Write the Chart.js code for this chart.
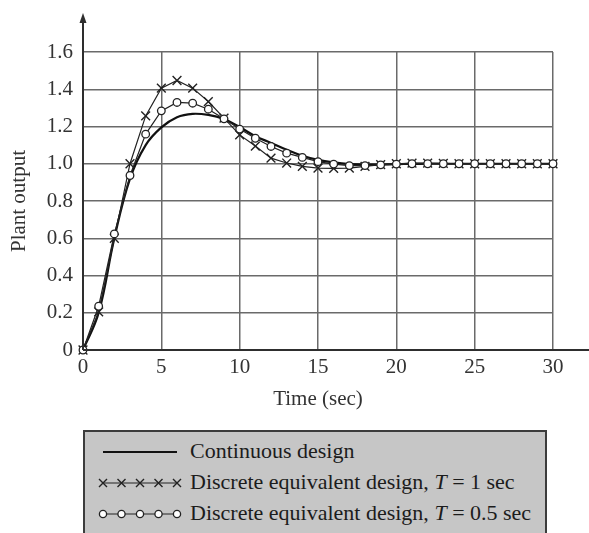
<!DOCTYPE html>
<html>
<head>
<meta charset="utf-8">
<script src="https://cdn.jsdelivr.net/npm/chart.js@4.4.1/dist/chart.umd.min.js"></script>
<style>
html,body{margin:0;padding:0;background:#fff;width:589px;height:533px;overflow:hidden;}
#wrap{position:relative;width:589px;height:533px;}
#chart{position:absolute;left:0;top:0;}
#legend{position:absolute;left:83px;top:430px;width:460px;height:130px;background:#c6c6c6;border:2px solid #3c3c3c;font-family:"Liberation Serif","Times New Roman",serif;font-size:22px;color:#1c1c1c;}
.row{position:absolute;left:0;width:456px;height:24px;}
.row svg{position:absolute;left:13px;top:0;}
.row span{position:absolute;left:105px;top:-1px;line-height:24px;white-space:nowrap;}
</style>
</head>
<body>
<div id="wrap">
<canvas id="chart" width="589" height="533"></canvas>
<div id="legend"></div>
</div>
<script>
// ---- data ----
const timeSec = [0,1,2,3,4,5,6,7,8,9,10,11,12,13,14,15,16,17,18,19,20,21,22,23,24,25,26,27,28,29,30];
const continuousDesign = [0,0.2,0.6,0.92,1.1,1.195,1.25,1.268,1.262,1.24,1.197,1.148,1.112,1.075,1.043,1.021,1.007,0.998,0.995,0.996,0.998,0.999,1,1,1,1,1,1,1,1,1];
const discreteT1 = [0,0.205,0.6,1.0,1.257,1.406,1.447,1.406,1.334,1.245,1.155,1.095,1.03,1.004,0.986,0.977,0.975,0.977,0.986,0.995,1.0,1.003,1.003,1.002,1.0,1.0,1.0,1.0,1.0,1.0,1.0];
const discreteT05 = [0,0.235,0.623,0.937,1.159,1.284,1.329,1.325,1.293,1.241,1.186,1.137,1.093,1.057,1.034,1.011,0.998,0.99,0.99,0.994,0.998,1.0,1.0,1.0,1.0,1.0,1.0,1.0,1.0,1.0,1.0];
const xTicks = [0,5,10,15,20,25,30];
const yTicks = [0,0.2,0.4,0.6,0.8,1.0,1.2,1.4,1.6];
const seriesLabels = ['Continuous design','Discrete equivalent design, T = 1 sec','Discrete equivalent design, T = 0.5 sec'];
const xTitle = 'Time (sec)';
const yTitle = 'Plant output';

const serif = '"Liberation Serif","Times New Roman",serif';
const toPts = ys => timeSec.map((t,i)=>({x:t,y:ys[i]}));

const axisArrows = {
  id:'axisArrows',
  afterDraw(chart){
    const {ctx, chartArea:a} = chart;
    ctx.save();
    ctx.strokeStyle = '#2e2e2e';
    ctx.fillStyle = '#2e2e2e';
    ctx.lineWidth = 2;
    ctx.beginPath();
    ctx.moveTo(a.left, a.bottom); ctx.lineTo(a.left, 20);
    ctx.moveTo(a.left, a.bottom); ctx.lineTo(chart.width, a.bottom);
    ctx.stroke();
    ctx.beginPath();
    ctx.moveTo(a.left, 13); ctx.lineTo(a.left-3.5, 23); ctx.lineTo(a.left+3.5, 23); ctx.closePath();
    ctx.fill();
    ctx.restore();
  }
};

const chart = new Chart(document.getElementById('chart'), {
  type:'line',
  data:{
    datasets:[
      {label:seriesLabels[0], data:toPts(continuousDesign), borderColor:'#111', borderWidth:2.2, pointRadius:0, tension:0.4, order:3, clip:false},
      {label:seriesLabels[1], data:toPts(discreteT1), borderColor:'#222', borderWidth:1.2, pointStyle:'crossRot', pointRadius:6.2, pointBorderWidth:1.4, pointBorderColor:'#222', tension:0, order:2, clip:false},
      {label:seriesLabels[2], data:toPts(discreteT05), borderColor:'#222', borderWidth:1.2, pointStyle:'circle', pointRadius:3.8, pointBorderWidth:1.3, pointBorderColor:'#222', pointBackgroundColor:'#fff', tension:0, order:1, clip:false}
    ]
  },
  options:{
    responsive:false, animation:false, devicePixelRatio:1,
    layout:{padding:{left:0, top:52, right:36, bottom:113}},
    plugins:{legend:{display:false}, tooltip:{enabled:false}},
    scales:{
      x:{
        type:'linear', min:0, max:30,
        afterBuildTicks:s=>{ s.ticks = xTicks.map(v=>({value:v})); },
        afterFit:s=>{ s.height = 70; },
        ticks:{font:{family:serif,size:21}, color:'#333', padding:5, maxRotation:0, autoSkip:false},
        grid:{color:'#6a6a6a', lineWidth:1.5, drawTicks:false},
        border:{color:'#2e2e2e', width:2},
        title:{display:true, text:xTitle, font:{family:serif,size:21}, color:'#333', padding:{top:0,bottom:8}}
      },
      y:{
        type:'linear', min:0, max:1.6,
        afterBuildTicks:s=>{ s.ticks = yTicks.map(v=>({value:v})); },
        afterFit:s=>{ s.width = 83; },
        ticks:{font:{family:serif,size:21}, color:'#333', padding:10, autoSkip:false,
          callback:v=> v===0 ? '0' : Number(v).toFixed(1)},
        grid:{color:'#6a6a6a', lineWidth:1.5, drawTicks:false},
        border:{color:'#2e2e2e', width:2},
        title:{display:true, text:yTitle, font:{family:serif,size:21}, color:'#333', padding:{top:7,bottom:0}}
      }
    }
  },
  plugins:[axisArrows]
});

// ---- HTML legend built from the dataset labels ----
const legend = document.getElementById('legend');
const rowCenters = [20, 51, 82];
function sample(i){
  const cx = [5, 23.5, 42, 60.5, 79];
  let s = '<svg width="88" height="24" viewBox="0 0 88 24">';
  if(i===0){
    s += '<line x1="5" y1="12" x2="79" y2="12" stroke="#111" stroke-width="2.2"/>';
  } else {
    s += '<line x1="5" y1="12" x2="79" y2="12" stroke="#222" stroke-width="1.2"/>';
    cx.forEach(x=>{
      if(i===1){
        s += `<path d="M${x-4} 8 L${x+4} 16 M${x-4} 16 L${x+4} 8" stroke="#222" stroke-width="1.4"/>`;
      } else {
        s += `<circle cx="${x}" cy="12" r="3.6" fill="#fff" stroke="#222" stroke-width="1.3"/>`;
      }
    });
  }
  return s + '</svg>';
}
chart.data.datasets.forEach((ds,i)=>{
  const row = document.createElement('div');
  row.className = 'row';
  row.style.top = (rowCenters[i]-12)+'px';
  const txt = ds.label.replace(', T =', ', <i>T</i> =');
  row.innerHTML = sample(i) + '<span>' + txt + '</span>';
  legend.appendChild(row);
});
</script>
</body>
</html>
